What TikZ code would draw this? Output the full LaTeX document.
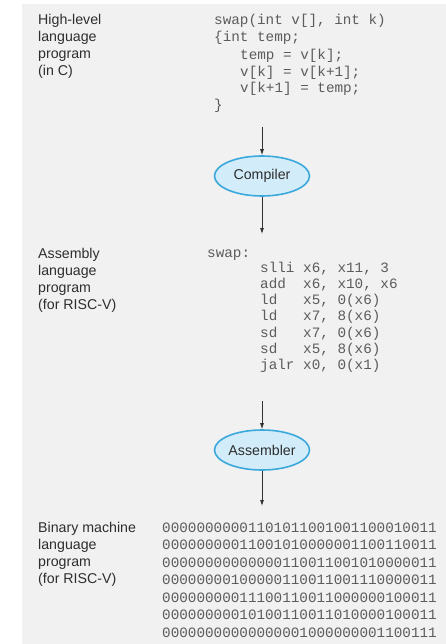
\documentclass[tikz,border=0pt]{standalone}
\usepackage{fontspec}
\setmainfont{Liberation Sans}
\newfontfamily\codefont{Liberation Mono}
\usetikzlibrary{shapes.geometric,arrows.meta}
\definecolor{panelgray}{HTML}{F1F1F1}
\definecolor{labelink}{HTML}{2E2E2E}
\definecolor{codeink}{HTML}{5C5C5C}
\definecolor{toolline}{HTML}{3BA8DC}
\definecolor{toolfill}{HTML}{D2ECF9}
\tikzset{
  label/.style={anchor=base west, inner sep=0pt, text=labelink, font=\fontsize{14.2}{17}\selectfont},
  code/.style={anchor=base west, inner sep=0pt, text=codeink, font=\codefont\fontsize{14.3}{17}\selectfont},
  tool/.style={ellipse, draw=toolline, line width=1.6pt, fill=toolfill, minimum width=95pt, minimum height=40pt, inner sep=0pt, text=labelink, font=\fontsize{14.2}{17}\selectfont},
  flow/.style={draw=black!80, line width=0.8pt, -{Latex[length=6pt,width=4pt]}},
}
\begin{document}
\begin{tikzpicture}[x=1pt,y=-1pt]
\useasboundingbox (0,0) rectangle (446,644);
\fill[panelgray] (22,4) rectangle (446,644);

% ---- high-level C source ----
\node[label] (hl1) at (38,25) {High-level};
\node[label] (hl2) at (38,42) {language};
\node[label] (hl3) at (38,59) {program};
\node[label] (hl4) at (38,76) {(in C)};

\node[code] (c1) at (214,25) {swap(int v[], int k)};
\node[code] (c2) at (214,42) {\{int temp;};
\node[code] (c3) at (240,59.5) {temp = v[k];};
\node[code] (c4) at (240,76.5) {v[k] = v[k+1];};
\node[code] (c5) at (240,93) {v[k+1] = temp;};
\node[code] (c6) at (214,110) {\}};

\coordinate (srcout) at (262,127);
\node[tool] (compiler) at (262,176) {Compiler};
\coordinate (asmin) at (262,234);

% ---- assembly ----
\node[label] (as1) at (38,258) {Assembly};
\node[label] (as2) at (38,275) {language};
\node[label] (as3) at (38,292) {program};
\node[label] (as4) at (38,309) {(for RISC-V)};

\node[code] (a0) at (207,257) {swap:};
\foreach \op/\args [count=\i] in {slli/{x6, x11, 3},add/{x6, x10, x6},ld/{x5, 0(x6)},ld/{x7, 8(x6)},sd/{x7, 0(x6)},sd/{x5, 8(x6)},jalr/{x0, 0(x1)}}{
  \node[code] (op\i) at (260,255.7+16.3*\i) {\op};
  \node[code] (arg\i) at (303,255.7+16.3*\i) {\args};
}

\coordinate (asmout) at (262,401);
\node[tool] (assembler) at (262,450) {Assembler};
\coordinate (binin) at (262,506);

% ---- binary ----
\node[label] (bn1) at (38,532) {Binary machine};
\node[label] (bn2) at (38,549) {language};
\node[label] (bn3) at (38,566) {program};
\node[label] (bn4) at (38,583) {(for RISC-V)};

\foreach \w [count=\i] in {
  00000000001101011001001100010011,
  00000000011001010000001100110011,
  00000000000000110011001010000011,
  00000000100000110011001110000011,
  00000000011100110011000000100011,
  00000000010100110011010000100011,
  00000000000000001000000001100111}{
  \node[code] (b\i) at (162,514.5+17.5*\i) {\w};
}

% ---- flow arrows ----
\draw[flow] (srcout) -- (compiler.north);
\draw[flow] (compiler.south) -- (asmin);
\draw[flow] (asmout) -- (assembler.north);
\draw[flow] (assembler.south) -- (binin);
\end{tikzpicture}
\end{document}
